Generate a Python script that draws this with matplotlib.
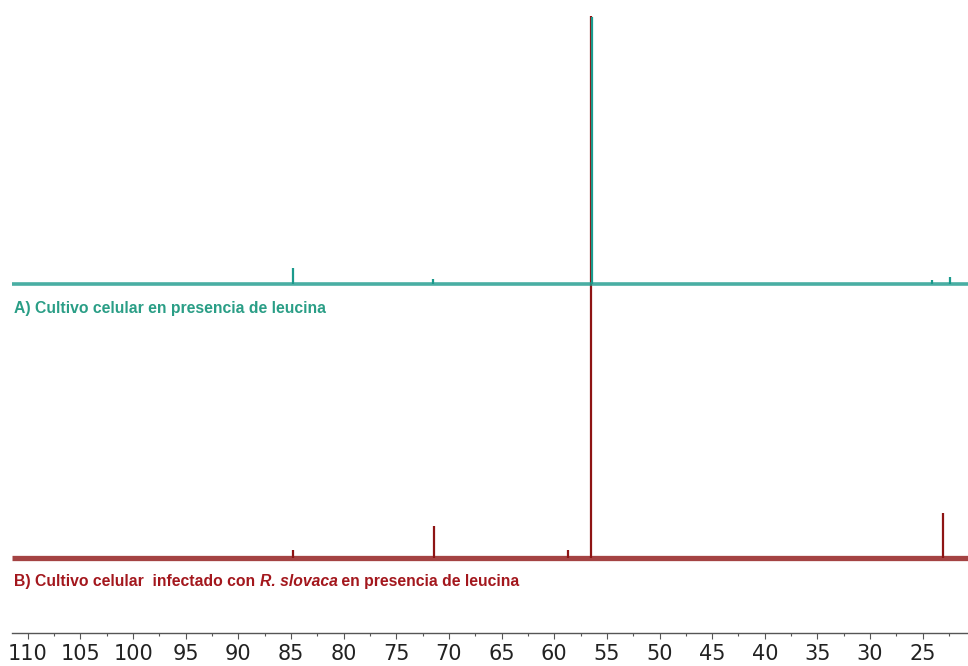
import matplotlib
matplotlib.use("Agg")
import matplotlib.pyplot as plt
from matplotlib.ticker import MultipleLocator

# 13C chemical shifts (ppm) and peak intensities (arbitrary units) of each trace
ppm_a = [84.8, 71.5, 56.45, 24.1, 22.4]
int_a = [6.0, 2.0, 100.0, 1.5, 2.5]

ppm_b = [84.8, 71.4, 58.7, 56.55, 23.05]
int_b = [3.0, 12.0, 3.0, 203.0, 16.8]

ppm_range = [111.5, 20.7]
tick_values = list(range(25, 111, 5))
tick_labels = [str(v) for v in tick_values]

label_a = "A) Cultivo celular en presencia de leucina"
label_b = ["B) Cultivo celular  infectado con ", "R. slovaca", " en presencia de leucina"]

col_a, txt_a = "#1b9a8c", "#2a9e86"
col_b, txt_b = "#8e1414", "#a3171d"
offset_a, offset_b = 102.6, 0.0

W, H = 968, 666
fig = plt.figure(figsize=(W / 100, H / 100), dpi=100)
ax = fig.add_axes([12 / W, (H - 633) / H, 956 / W, 633 / H])
ax.set_xlim(*ppm_range)
ax.set_ylim(-28.1, 209.0)

# baseline noise bands
ax.plot(ppm_range, [offset_b, offset_b], color=col_b, lw=3.8, alpha=0.8,
        solid_capstyle="butt", zorder=1)
ax.plot(ppm_range, [offset_a, offset_a], color=col_a, lw=2.6, alpha=0.8,
        solid_capstyle="butt", zorder=3)

# resonances
ax.vlines(ppm_b, offset_b, [offset_b + v for v in int_b], color=col_b, lw=1.6, zorder=2)
ax.vlines(ppm_a, offset_a, [offset_a + v for v in int_a], color=col_a, lw=1.6, zorder=4)

# trace captions
fa = dict(family="Liberation Sans", weight="bold", size=11.3)
ax.text(111.3, offset_a - 6.3, label_a, color=txt_a, va="top", ha="left", **fa)

t1 = ax.text(111.3, offset_b - 6.0, label_b[0], color=txt_b, va="top", ha="left", **fa)
t2 = ax.annotate(label_b[1], xy=(1, 0), xycoords=t1, va="bottom", ha="left",
                 color=txt_b, style="italic", **fa)
ax.annotate(label_b[2], xy=(1, 0), xycoords=t2, va="bottom", ha="left",
            color=txt_b, **fa)

# ppm axis
for s in ("left", "right", "top"):
    ax.spines[s].set_visible(False)
ax.spines["bottom"].set_color("#555555")
ax.spines["bottom"].set_linewidth(1.0)
ax.set_yticks([])
ax.set_xticks(tick_values)
ax.set_xticklabels(tick_labels)
ax.xaxis.set_minor_locator(MultipleLocator(2.5))
ax.tick_params(axis="x", which="major", direction="out", length=4, width=0.8,
               color="#555555", labelsize=15, labelcolor="#222222", pad=4)
ax.tick_params(axis="x", which="minor", direction="out", length=2.5, width=0.8,
               color="#555555")
for lab in ax.get_xticklabels():
    lab.set_family("DejaVu Sans")

fig.savefig("out.png", dpi=100)
